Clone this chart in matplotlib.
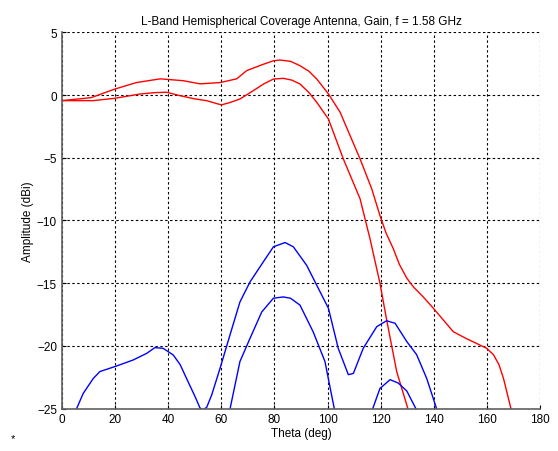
import numpy as np
import matplotlib
matplotlib.use("Agg")
import matplotlib.pyplot as plt

plt.rcParams['font.family'] = ['Liberation Sans', 'DejaVu Sans']

# ================= DATA =================
theta_red_hi = [0, 11, 20, 28, 37, 45.7, 52, 59.5, 65.8, 69.5, 75, 79.6, 82, 86, 89.6, 93, 95.9,
                100.3, 104.7, 108, 112.2, 116.6, 119.7, 122, 124.7, 127, 129.8, 132.3, 136,
                139.8, 143, 147.3, 152, 156, 159.9, 162.4, 164.5, 166.2, 169, 170]
gain_red_hi = [-0.44, -0.2, 0.49, 1.0, 1.3, 1.15, 0.9, 1.0, 1.3, 1.95, 2.4, 2.74, 2.8, 2.7, 2.35, 1.9, 1.29,
               0.1, -1.36, -3.0, -5.08, -7.47, -9.6, -11.0, -12.24, -13.5, -14.6, -15.3, -16.1,
               -17.0, -17.8, -18.87, -19.4, -19.8, -20.2, -20.7, -21.5, -22.6, -25.0, -26.0]

theta_red_lo = [0, 11.8, 20, 29.4, 35, 39.4, 44.4, 50, 54.4, 60, 63.1, 67, 72, 76, 79.6, 83.3,
                86.5, 89.6, 93, 95.9, 100.3, 105.9, 112.2, 116, 119.7, 122.2, 126, 130.2, 131]
gain_red_lo = [-0.44, -0.44, -0.25, 0.09, 0.2, 0.23, -0.04, -0.3, -0.44, -0.78, -0.6, -0.31, 0.35, 0.9, 1.28, 1.34,
               1.2, 0.89, 0.2, -0.57, -1.9, -5.08, -8.26, -11.5, -15.0, -17.9, -22.05, -25.0, -25.7]

theta_blue_hi = [4.5, 8, 11.8, 14.3, 20, 26.8, 31.9, 35, 38.1, 41.9, 44.5, 46.9, 50, 52, 53.2, 54.5, 56.4,
                 59.5, 63.3, 67, 70.8, 75.8, 79.6, 84, 87.1, 92.1, 95.9, 100.3, 104, 107.8, 109.7,
                 113.4, 118.5, 122.2, 125.4, 129.8, 133.5, 137.3, 141, 141.6]
gain_blue_hi = [-25.5, -23.8, -22.6, -22.05, -21.65, -21.13, -20.6, -20.14, -20.2, -20.73, -21.5, -22.6, -24.0, -24.97, -25.1, -24.9, -23.9,
                -21.8, -19.1, -16.5, -14.9, -13.3, -12.1, -11.76, -12.1, -13.57, -15.16, -17.0, -20.2, -22.3, -22.2,
                -20.2, -18.47, -18.0, -18.2, -19.66, -20.7, -22.6, -25.0, -25.5]

theta_blue_lo = [63.0, 63.3, 67, 70.8, 75.2, 79.6, 83.3, 86, 89.6, 94.6, 99, 102.5, 103,
                 np.nan, 116.7, 117, 119.7, 123.5, 126.6, 129.8, 133.2, 133.6]
gain_blue_lo = [-25.5, -25.0, -21.25, -19.4, -17.3, -16.2, -16.1, -16.2, -16.75, -18.9, -21.25, -25.0, -25.5,
                np.nan, -25.5, -25.0, -23.4, -22.7, -22.97, -23.6, -25.0, -25.5]

x_ticks = [0, 20, 40, 60, 80, 100, 120, 140, 160, 180]
y_ticks = [-25, -20, -15, -10, -5, 0, 5]
# ================================================================

fig = plt.figure(figsize=(5.58, 4.52), dpi=100)
ax = fig.add_axes([0.111, 0.094, 0.857, 0.832])

ax.plot(theta_red_hi, gain_red_hi, color='red', lw=1)
ax.plot(theta_red_lo, gain_red_lo, color='red', lw=1)
ax.plot(theta_blue_hi, gain_blue_hi, color='blue', lw=1)
ax.plot(theta_blue_lo, gain_blue_lo, color='blue', lw=1)

ax.set_xlim(0, 180)
ax.set_ylim(-25, 5)
ax.set_xticks(x_ticks)
ax.set_yticks(y_ticks)
ax.grid(True, color='black', linestyle=(0, (2.2, 2.2)), linewidth=0.8)

for s in ['top', 'right']:
    ax.spines[s].set_visible(False)
for s in ['left', 'bottom']:
    ax.spines[s].set_color('#606060')
    ax.spines[s].set_linewidth(1.2)
ax.tick_params(direction='in', length=3, labelsize=8.5, colors='black')

ax.set_xlabel("Theta (deg)", fontsize=8.5, labelpad=1)
ax.set_ylabel("Amplitude (dBi)", fontsize=8.5, labelpad=2)
ax.set_title("L-Band Hemispherical Coverage Antenna, Gain, f = 1.58 GHz", fontsize=8.5, pad=6)
fig.text(0.02, 0.022, "*", fontsize=8)

fig.savefig("out.png", dpi=100)
